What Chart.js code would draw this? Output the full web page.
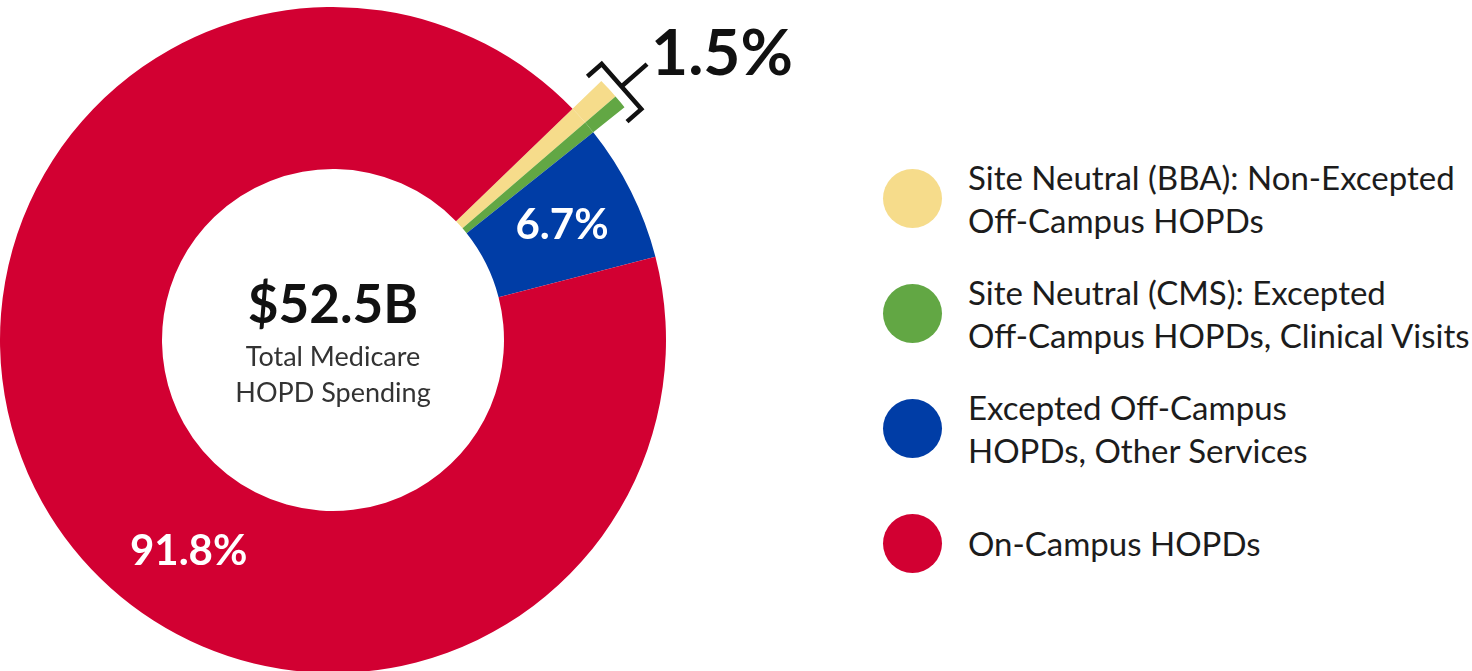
<!DOCTYPE html>
<html>
<head>
<meta charset="utf-8">
<title>Medicare HOPD spending</title>
<script src="https://cdn.jsdelivr.net/npm/chart.js@4.4.1/dist/chart.umd.min.js"></script>
<style>
  html, body { margin: 0; padding: 0; background: #fff; overflow: hidden; }
  body { width: 1472px; height: 671px; position: relative; font-family: Lato, 'Noto Sans', sans-serif; }
  #chartWrap { position: absolute; left: -40px; top: -33px; }
  #legend { position: absolute; left: 883px; top: 141px; }
  .item { display: flex; align-items: center; height: 115px; }
  .dot { width: 59px; height: 59px; border-radius: 50%; flex: none; }
  .txt { margin-left: 26px; font-size: 33px; line-height: 43px; color: #1c1c1c; white-space: nowrap; }
</style>
</head>
<body>
<div id="chartWrap"><canvas id="chart" width="900" height="746"></canvas></div>
<div id="legend"></div>
<script>
// categories (legend text, one entry per line)
const categories = [
    ['Site Neutral (BBA): Non-Excepted', 'Off-Campus HOPDs'],
    ['Site Neutral (CMS): Excepted', 'Off-Campus HOPDs, Clinical Visits'],
    ['Excepted Off-Campus', 'HOPDs, Other Services'],
    ['On-Campus HOPDs']
];
// share of total spending, percent
const shares = [0.9, 0.6, 6.7, 91.8];
const colors = ['#F6DC8B', '#62A744', '#003DA6', '#D20032'];
// slices pulled out past the ring and bracketed together
const pulledOut = [true, true, false, false];
// where the % label sits along each slice (null = no label on the slice)
const labelFrac = [null, null, 0.5, 0.42];

const totalLabel = '$52.5B';
const subtitleLines = ['Total Medicare', 'HOPD Spending'];

// legend
const legendEl = document.getElementById('legend');
categories.forEach((lines, i) => {
    const item = document.createElement('div');
    item.className = 'item';
    item.innerHTML = '<div class="dot" style="background:' + colors[i] + '"></div>' +
        '<div class="txt">' + lines.join('<br>') + '</div>';
    legendEl.appendChild(item);
});

const labelsPlugin = {
    id: 'hopdLabels',
    afterDatasetsDraw(chart) {
        const ctx = chart.ctx;
        const ring = chart.getDatasetMeta(1).data;
        const outer = chart.getDatasetMeta(0).data;
        const cx = ring[0].x, cy = ring[0].y;
        ctx.save();

        // centre text
        ctx.textAlign = 'center';
        ctx.textBaseline = 'middle';
        ctx.fillStyle = '#111';
        ctx.font = 'bold 53px Lato';
        ctx.fillText(totalLabel, cx, cy - 34);
        ctx.fillStyle = '#333';
        ctx.font = '27px Lato';
        subtitleLines.forEach((t, i) => ctx.fillText(t, cx, cy + 17 + i * 36));

        // labels inside slices
        ctx.fillStyle = '#fff';
        ctx.font = 'bold 42px Lato';
        labelFrac.forEach((f, i) => {
            if (f === null) return;
            const a = ring[i];
            const ang = a.startAngle + (a.endAngle - a.startAngle) * f;
            const r = (a.innerRadius + a.outerRadius) / 2 + 4;
            ctx.fillText(shares[i].toFixed(1) + '%', cx + Math.cos(ang) * r, cy + Math.sin(ang) * r);
        });

        // bracket over the pulled-out slices
        const idx = pulledOut.map((p, i) => p ? i : -1).filter(i => i >= 0);
        const first = outer[idx[0]], last = outer[idx[idx.length - 1]];
        const mid = (first.startAngle + last.endAngle) / 2;
        const ux = Math.cos(mid), uy = Math.sin(mid);
        const tx = -uy, ty = ux;
        const R = first.outerRadius + 11;
        const mx = cx + ux * R, my = cy + uy * R;
        const half = 30, arm = 19, stem = 34;
        ctx.strokeStyle = '#111';
        ctx.lineWidth = 4.5;
        ctx.lineJoin = 'miter';
        ctx.beginPath();
        ctx.moveTo(mx - tx * half - ux * arm, my - ty * half - uy * arm);
        ctx.lineTo(mx - tx * half, my - ty * half);
        ctx.lineTo(mx + tx * half, my + ty * half);
        ctx.lineTo(mx + tx * half - ux * arm, my + ty * half - uy * arm);
        ctx.moveTo(mx, my);
        const sx = mx + ux * stem, sy = my + uy * stem;
        ctx.lineTo(sx, sy);
        ctx.stroke();

        const sum = idx.reduce((s, i) => s + shares[i], 0);
        ctx.fillStyle = '#111';
        ctx.font = 'bold 64px Lato';
        ctx.textAlign = 'left';
        ctx.fillText(sum.toFixed(1) + '%', sx + 4, sy - 10);
        ctx.restore();
    }
};

new Chart(document.getElementById('chart'), {
    type: 'doughnut',
    data: {
        labels: categories.map(l => l.join(' ')),
        datasets: [{
            // outer band: only the pulled-out slices are visible
            data: shares,
            backgroundColor: colors.map((c, i) => pulledOut[i] ? c : 'rgba(0,0,0,0)'),
            borderWidth: 0,
            weight: 40
        }, {
            data: shares,
            backgroundColor: colors,
            borderWidth: 0,
            weight: 162
        }]
    },
    options: {
        responsive: false,
        animation: false,
        events: [],
        rotation: 46,
        cutout: 171,
        layout: { padding: { right: 154 } },
        plugins: {
            legend: { display: false },
            tooltip: { enabled: false }
        }
    },
    plugins: [labelsPlugin]
});
</script>
</body>
</html>
